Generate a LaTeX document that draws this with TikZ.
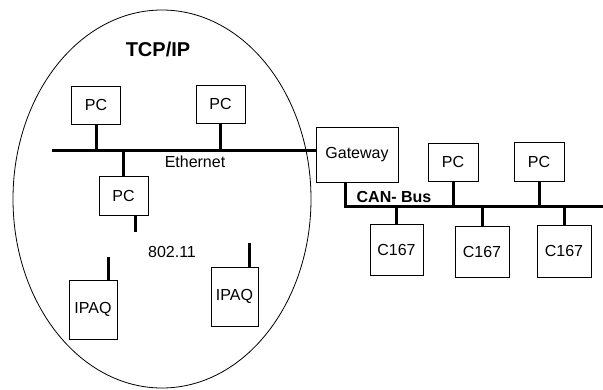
\documentclass[tikz,border=0pt]{standalone}
\usepackage{fontspec}
\setmainfont{Liberation Sans}
\usetikzlibrary{calc,positioning}

\begin{document}
\begin{tikzpicture}[x=1pt,y=-1pt,
box/.style = {rectangle, draw, line width=0.8pt, inner sep=1pt,
              font=\fontsize{16}{19}\selectfont},
pcbox/.style = {box, minimum width=49pt, minimum height=38pt},
ipaqbox/.style = {box, minimum width=47pt, minimum height=59pt},
cbox/.style = {box, minimum width=53pt, minimum height=51pt},
label/.style = {inner sep=0pt, font=\fontsize{16}{19}\selectfont},
title/.style = {inner sep=0pt, font=\fontsize{20}{24}\selectfont\bfseries},
bus/.style = {draw, line width=3pt}]

\useasboundingbox (0,0) rectangle (603,389);

% TCP/IP cloud
\draw[line width=0.8pt] (162,199) ellipse (149 and 189);
\node[title] (tcp) at (158,49) {TCP/IP};

% ethernet side
\node[pcbox] (pc1) at (96,105) {PC};
\node[pcbox] (pc2) at (220.5,104) {PC};
\node[pcbox, minimum height=39pt] (pc3) at (123.5,195.5) {PC};
\node[box, minimum width=82pt, minimum height=55pt] (gw) at (357,154.5) {Gateway};
\coordinate (ethL) at (52,150);
\node[label] (eth) at (195,162) {Ethernet};

% wireless
\node[label] (wlan) at (172,252) {802.11};
\node[ipaqbox, minimum width=48pt] (ipaq1) at (93,309.5) {IPAQ};
\node[ipaqbox] (ipaq2) at (234.5,296.5) {IPAQ};

% CAN side
\coordinate (canR) at (603,206);
\node[title, font=\fontsize{16}{19}\selectfont\bfseries] (can) at (394,197) {CAN- Bus};
\node[pcbox, minimum width=50pt] (pc4) at (453,162) {PC};
\node[pcbox, minimum width=50pt, minimum height=39pt] (pc5) at (539,161.5) {PC};
\node[cbox] (c1) at (396.5,249.5) {C167};
\node[cbox, minimum width=54pt] (c2) at (482,251.5) {C167};
\node[cbox, minimum width=54pt, minimum height=52pt] (c3) at (564,251) {C167};

\begin{scope}[every path/.style=bus]
\path (ethL) -- (gw.west |- ethL);
\path (pc1.south) -- (pc1.south |- ethL);
\path (pc2.south) -- (pc2.south |- ethL);
\path (pc3.north) -- (pc3.north |- ethL);
\path ([xshift=11.5pt]pc3.south) -- ++(0,17);
\path ([xshift=15pt]ipaq1.north) -- ++(0,-23);
\path ([xshift=14.5pt]ipaq2.north) -- ++(0,-24);

\path ([xshift=-12pt]gw.south) |- (canR);
\path (pc4.south) -- (pc4.south |- canR);
\path (pc5.south) -- (pc5.south |- canR);
\path (c1.north) -- (c1.north |- canR);
\path (c2.north) -- (c2.north |- canR);
\path (c3.north) -- (c3.north |- canR);
\end{scope}
\end{tikzpicture}
\end{document}
